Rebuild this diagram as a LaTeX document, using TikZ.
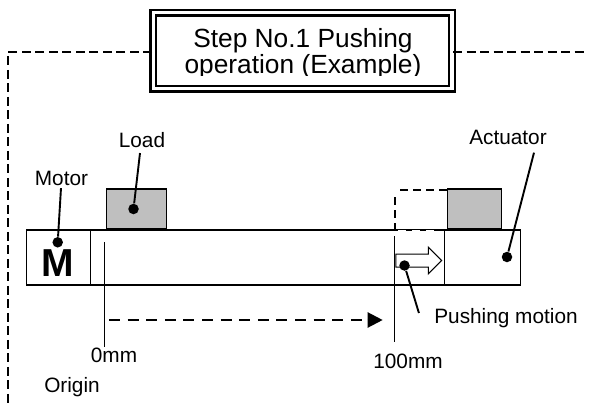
\documentclass[tikz,border=0pt]{standalone}
\usepackage{fontspec}
\setmainfont{Liberation Sans}
\usetikzlibrary{shapes.arrows, arrows.meta, positioning, calc}

\begin{document}
\begin{tikzpicture}[x=1pt, y=-1pt, thick]
    \tikzstyle{block} = [rectangle, draw, line width=1.4pt, inner sep=0pt]
    \tikzstyle{load} = [block, fill=black!25, minimum width=60pt, minimum height=39.5pt]
    \tikzstyle{label} = [inner sep=0pt, font=\fontsize{20.8}{24}\selectfont]
    \tikzstyle{dot} = [circle, fill=black, inner sep=0pt, minimum size=10.5pt]
    \tikzstyle{line} = [draw, line width=1.9pt]
    \tikzstyle{thin line} = [draw, line width=1pt]
    \tikzstyle{frame} = [draw, line width=1.5pt, dash pattern=on 9pt off 4.5pt]
    \tikzstyle{run} = [draw, line width=2.2pt]
    \tikzstyle{ghost} = [draw, line width=1.4pt, dash pattern=on 8pt off 5pt]

    \useasboundingbox (0,0) rectangle (591,407);

    % Nodes
    \node [block, minimum width=494pt, minimum height=55pt] (bar) at (273.5,257.5) {};
    \node [block, minimum width=64pt, minimum height=55pt, right=0pt of bar.west, anchor=west] (motor) {};
    \node [inner sep=0pt, font=\fontsize{39}{39}\bfseries\selectfont] (mname) at (58,263) {M};
    \node [load, above right=0pt and 80pt of bar.north west, anchor=south west] (load) {};
    \node [load, minimum width=54pt, above left=0pt and 19pt of bar.north east, anchor=south east] (actuator) {};
    \node [draw, line width=2.3pt, double=white, double distance=3.4pt, minimum width=298.7pt, minimum height=76.2pt, inner sep=0pt] (title) at (302.7,50.6) {};
    \begin{scope}
        \clip (150,9) rectangle (456,75);
        \node [align=center, inner sep=0pt, font=\fontsize{26.3}{26}\selectfont] (titletext) at (303,53.3) {Step No.1 Pushing\\operation (Example)};
    \end{scope}
    \node [single arrow, draw, line width=1pt, inner sep=0pt, minimum height=45.6pt, minimum width=25.6pt, single arrow head extend=6.8pt, single arrow head indent=0pt, text width=0pt, text height=12pt, anchor=tip] (push) at (442.3,260.5) {};

    \node [label] (motorlabel) at (61.5,178) {Motor};
    \node [label] (loadlabel) at (142,140) {Load};
    \node [label] (actlabel) at (508,137) {Actuator};
    \node [label] (pushlabel) at (506,318) {Pushing motion};
    \node [label] (zerolabel) at (114,355) {0mm};
    \node [label] (fulllabel) at (408,361) {100mm};
    \node [label] (originlabel) at (72,387) {Origin};

    \node [dot] (motordot) at (57.7,242.3) {};
    \node [dot] (loaddot) at (133.5,209) {};
    \node [dot] (actdot) at (507,257) {};
    \node [dot] (pushdot) at (404.5,265.5) {};

    \coordinate (cornertl) at (8,52);
    \coordinate (cornerbl) at (8,407);
    \coordinate (frameend) at (587,52);
    \coordinate (zerotop) at (104,242);
    \coordinate (fulltop) at (394.3,236);
    \coordinate (fullbot) at (394.3,342);
    \coordinate (runstart) at (109,320);
    \coordinate (runmid) at (367.7,320);
    \coordinate (runend) at (382.7,320);
    \coordinate (ghosttl) at (395,190);
    \coordinate (ghostbl) at (395,230);

    % Connections
    \path [frame] (title.west |- cornertl) -- (cornertl) -- (cornerbl);
    \path [frame] (title.east |- frameend) -- (frameend);
    \path [line] (motorlabel.south) ++(-0.5,2.5) -- (motordot);
    \path [line] (loadlabel.south) ++(-2,5) -- (loaddot);
    \path [line] (actlabel.south) ++(26,8) -- (actdot);
    \path [line] (pushlabel.west) ++(-15,-5) -- (pushdot);
    \path [thin line] (zerotop) -- (zerotop |- zerolabel.north);
    \path [thin line] (fulltop) -- (fullbot);
    \path [thin line] (444.3,230) -- (444.3,286);
    \path [run, dash pattern=on 11pt off 7.6pt] (runstart) -- (runmid);
    \path [run, -{Triangle[length=15pt, width=15pt]}] (runmid) -- (runend);

    % Ghost of the load
    \path [ghost] (actuator.west |- ghosttl) -- (ghosttl);
    \path [ghost] (ghosttl) ++(0,7) -- (ghostbl);
    \path [draw, white, line width=0.8pt, dash pattern=on 8pt off 6pt] (398,230) -- (437,230);
\end{tikzpicture}
\end{document}
